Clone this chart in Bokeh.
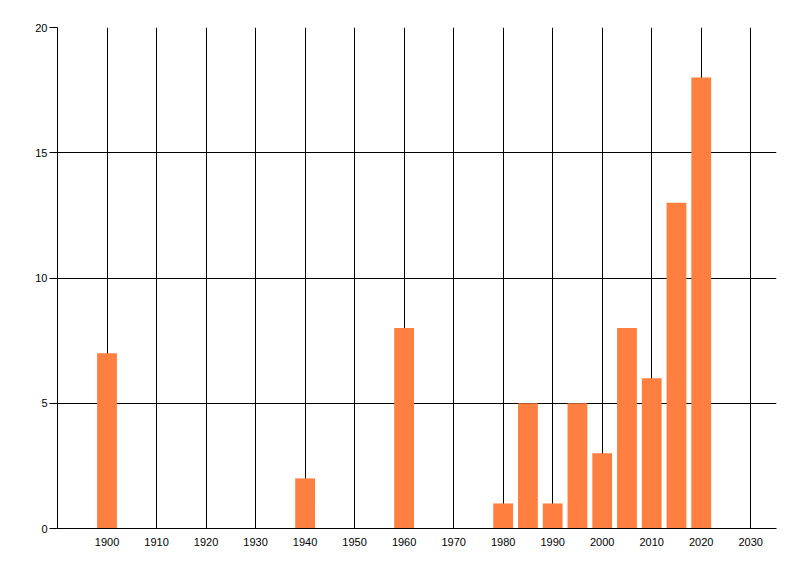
from bokeh.plotting import figure
from bokeh.models import ColumnDataSource, FixedTicker, Range1d
from bokeh.embed import file_html
from bokeh.resources import INLINE

years = [1900, 1940, 1960, 1980, 1985, 1990, 1995, 2000, 2005, 2010, 2015, 2020]
counts = [7, 2, 8, 1, 5, 1, 5, 3, 8, 6, 13, 18]
x_ticks = list(range(1900, 2031, 10))
y_ticks = [0, 5, 10, 15, 20]

src = ColumnDataSource(dict(x=years, top=counts))

p = figure(width=784, height=560, output_backend="svg", toolbar_location=None,
           x_range=Range1d(1890, 2035.2), y_range=Range1d(0, 20),
           min_border_left=57, min_border_right=8, min_border_top=27, min_border_bottom=32)
p.outline_line_color = None
p.background_fill_color = "white"
p.border_fill_color = "white"

p.vbar(x="x", top="top", bottom=0, width=4, source=src, fill_color="#FF7F40", line_color=None)

font = "Liberation Sans"
p.xaxis.ticker = FixedTicker(ticks=x_ticks)
p.yaxis.ticker = FixedTicker(ticks=y_ticks)
for ax in (p.xaxis, p.yaxis):
    ax.axis_line_color = "black"
    ax.axis_line_width = 1
    ax.major_label_text_font = font
    ax.major_label_text_font_size = "11px"
    ax.major_label_text_color = "black"
    ax.minor_tick_line_color = None
p.xaxis.major_tick_line_color = None
p.xaxis.major_label_standoff = 3
p.yaxis.major_tick_line_color = "black"
p.yaxis.major_tick_out = 8
p.yaxis.major_tick_in = 0
p.yaxis.major_label_standoff = 2

p.xgrid.ticker = FixedTicker(ticks=x_ticks)
p.ygrid.ticker = FixedTicker(ticks=y_ticks)
p.grid.grid_line_color = "black"
p.grid.grid_line_width = 1
p.grid.grid_line_alpha = 1

open("out.html", "w").write(file_html(p, INLINE))
